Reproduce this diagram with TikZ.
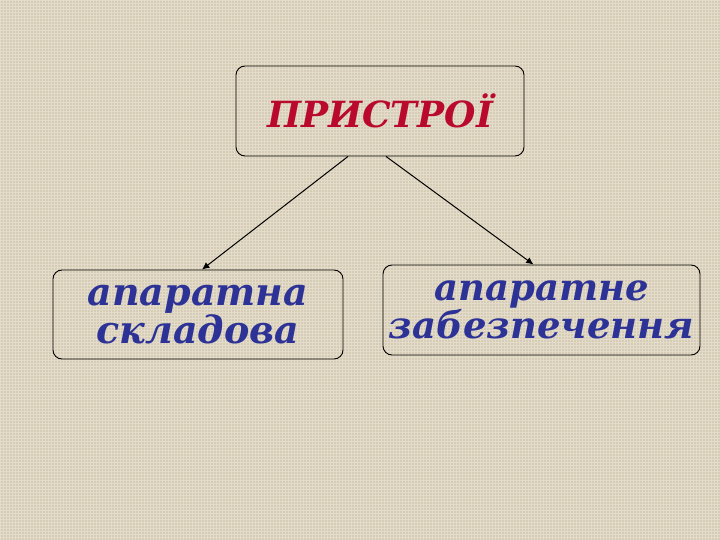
\documentclass[tikz,border=0pt]{standalone}
\usepackage{fontspec}
\setmainfont{DejaVu Serif}
\usetikzlibrary{calc,patterns,positioning}
\usetikzlibrary{arrows.meta}
\tikzset{>={Latex[width=2.4mm,length=2.6mm]}}
\definecolor{canvas}{RGB}{214, 203, 180}
\definecolor{canvas_light}{RGB}{228, 220, 202}
\definecolor{title_red}{RGB}{185, 10, 45}
\definecolor{label_blue}{RGB}{45, 50, 150}

\begin{document}
\begin{tikzpicture}[x=1pt, y=-1pt,
					box/.style={draw, rectangle, rounded corners=9pt, line width=0.9pt},
					Title/.style={font=\bfseries\itshape\fontsize{36}{42}\selectfont, text=title_red},
					Part/.style={font=\bfseries\itshape\fontsize{38}{44}\selectfont, text=label_blue, align=center},
				]
				\fill[canvas,postaction={pattern=grid,pattern color=canvas_light}] (0,0) rectangle (720,540);
				\useasboundingbox (0,0) rectangle (720,540);

				\node[box,Title,minimum width=288pt,minimum height=90pt] (devices) at (380,111) {ПРИСТРОЇ};
				\node[box,Part,minimum width=290pt,minimum height=89pt] (hardware) at (198,314.5) {апаратна\\[-6pt]складова};
				\node[box,Part,minimum width=317pt,minimum height=90pt,font=\bfseries\itshape\fontsize{37}{44}\selectfont] (support) at (541.5,310) {апаратне\\[-6pt]забезпечення};

				\draw[->, line width=1pt] ($(devices.south)+(-32,0)$) -- ($(hardware.north)+(4,0)$);
				\draw[->, line width=1pt] ($(devices.south)+(6,0)$) -- ($(support.north)+(-8,0)$);

			\end{tikzpicture}
\end{document}
